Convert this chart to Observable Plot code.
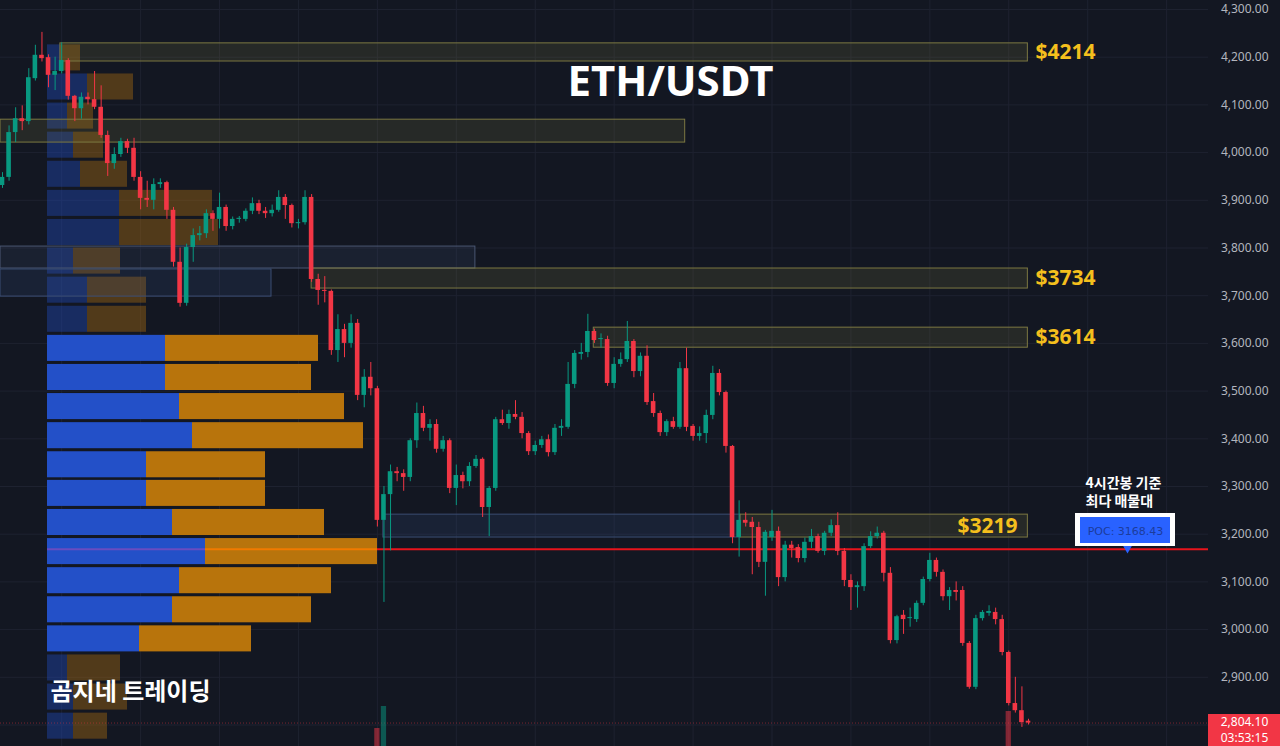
<!DOCTYPE html>
<html><head><meta charset="utf-8">
<script src="https://cdn.jsdelivr.net/npm/d3@7"></script>
<script src="https://cdn.jsdelivr.net/npm/@observablehq/plot@0.6"></script>
<style>
html,body{margin:0;padding:0;background:#131722;overflow:hidden}
#chart svg{display:block}
</style></head><body><div id="chart"></div>
<script>
// ---------- DATA ----------
const opens = [3931,3948,4042,4071,4065,4155,4204,4199,4162,4170,
4193,4118,4092,4116,4111,4095,4036,3977,3996,4023,
4009,3948,3904,3900,3933,3937,3879,3770,3684,3801,
3826,3830,3872,3860,3885,3845,3860,3860,3877,3893,
3877,3872,3879,3906,3889,3851,3853,3906,3734,3711,
3709,3585,3629,3600,3642,3491,3529,3505,3229,3283,
3331,3327,3319,3396,3453,3422,3430,3378,3396,3296,
3323,3310,3342,3357,3256,3296,3440,3432,3451,3445,
3411,3373,3386,3398,3371,3422,3424,3514,3577,3581,
3625,3608,3608,3516,3556,3566,3604,3541,3573,3478,
3453,3413,3436,3424,3547,3426,3405,3411,3449,3537,
3497,3384,3193,3229,3225,3214,3141,3193,3206,3109,
3177,3172,3149,3183,3195,3164,3202,3218,3164,3103,
3088,3090,3174,3195,3202,3118,2977,3030,3023,3021,
3055,3105,3145,3120,3069,3082,3082,2971,2879,3023,
3034,3036,3021,2952,2845,2830,2808];
const closes = [3948,4042,4071,4065,4157,4204,4197,4162,4170,4193,
4118,4092,4116,4111,4095,4036,3977,3996,4023,4009,
3948,3904,3900,3933,3937,3879,3770,3684,3801,3826,
3830,3872,3860,3885,3845,3860,3861,3877,3893,3877,
3872,3879,3906,3889,3851,3853,3906,3734,3711,3709,
3585,3629,3600,3642,3491,3529,3505,3229,3283,3331,
3327,3319,3396,3453,3422,3430,3378,3396,3296,3323,
3310,3342,3357,3256,3296,3440,3432,3451,3445,3411,
3373,3386,3398,3371,3422,3426,3514,3579,3581,3625,
3606,3609,3516,3556,3566,3604,3541,3573,3476,3453,
3413,3436,3424,3547,3424,3405,3411,3449,3537,3497,
3384,3193,3229,3223,3214,3141,3204,3206,3109,3177,
3170,3149,3183,3195,3164,3202,3218,3164,3103,3088,
3092,3174,3195,3202,3118,2977,3027,3021,3023,3055,
3105,3145,3120,3069,3082,3078,2971,2879,3023,3036,
3038,3021,2952,2845,2830,2805,2804];
const highs = [3958,4056,4094,4098,4176,4225,4252,4205,4200,4230,
4197,4120,4125,4125,4170,4140,4045,4010,4030,4028,
4030,3960,3940,3945,3945,3940,3885,3800,3808,3840,
3845,3880,3878,3915,3890,3865,3866,3882,3905,3900,
3885,3890,3920,3912,3892,3860,3920,3912,3745,3740,
3712,3660,3640,3660,3650,3545,3560,3510,3300,3345,
3340,3335,3400,3475,3468,3440,3440,3405,3400,3345,
3330,3350,3365,3360,3300,3445,3460,3460,3480,3455,
3415,3395,3405,3408,3430,3440,3560,3585,3600,3661,
3630,3620,3615,3570,3580,3646,3608,3580,3595,3495,
3458,3440,3445,3560,3590,3430,3425,3460,3552,3545,
3500,3386,3270,3245,3235,3225,3208,3250,3215,3185,
3185,3178,3192,3210,3200,3206,3230,3245,3170,3115,
3100,3180,3205,3215,3206,3130,3030,3040,3045,3060,
3110,3160,3150,3125,3088,3100,3090,2975,3030,3040,
3050,3045,3030,2955,2900,2880,2812];
const lows = [3925,3940,4021,4046,4058,4150,4190,4136,4130,4165,
4110,4065,4070,4100,4090,4030,3950,3965,3990,3998,
3940,3880,3885,3880,3925,3860,3760,3676,3678,3770,
3815,3820,3835,3840,3835,3838,3852,3855,3870,3870,
3862,3865,3875,3860,3842,3840,3848,3728,3680,3685,
3575,3560,3570,3590,3480,3465,3490,3215,3057,3165,
3310,3290,3310,3380,3415,3395,3370,3372,3285,3260,
3295,3300,3338,3235,3195,3290,3428,3420,3440,3400,
3365,3365,3380,3362,3365,3405,3420,3505,3565,3570,
3600,3590,3510,3505,3550,3560,3528,3530,3470,3445,
3405,3405,3420,3420,3415,3395,3395,3390,3440,3490,
3370,3180,3152,3215,3115,3130,3070,3185,3090,3100,
3150,3140,3140,3170,3160,3155,3195,3155,3090,3040,
3045,3080,3170,3190,3100,2970,2970,2990,3005,3015,
3050,3100,3110,3060,3040,3060,2965,2875,2874,3018,
3028,3010,2945,2840,2825,2795,2800];

// visible volume bars (candle index, volume units)
const volIndex = [57, 58, 153];
const volValue = [18, 40, 35];

// volume profile (24 price bins, top to bottom)
const binHigh = [4229,4168,4107,4046,3985,3924,3863,3803,3742,3681,
3620,3559,3498,3437,3376,3316,3255,3194,3133,3072,
3011,2950,2889,2828];
const binStep = 60.9;
const buyVol  = [13,40,20,26,33,72,72,26,40,40,118,118,132,145,99,99,125,158,132,125,92,20,26,26];
const sellVol = [20,46,26,30,47,93,99,47,59,59,153,146,165,171,119,119,152,172,152,139,112,53,54,34];
const valueAreaRows = [10,11,12,13,14,15,16,17,18,19,20];

const pocPrice = 3168.43;
const lastPrice = 2804.10;
const countdown = "03:53:15";

// support / resistance zones
const zoneStart = [8.8, -0.3, -0.3, -0.3, 47.0, 89.9, 57.9, 112.2];
const zoneEnd   = [155.9, 103.8, 71.9, 40.9, 155.9, 155.9, 112.2, 155.9];
const zoneLow   = [4191, 4021, 3757, 3698, 3715, 3591, 3193, 3193];
const zoneHigh  = [4229, 4069, 3803, 3755, 3757, 3633, 3241, 3241];
const zoneKind  = ["olive","olive","grey","blue","olive","olive","blue","olive"];
const zoneLabels = ["$4214", "$3734", "$3614", "$3219"];
const zoneLabelPrice = [4210, 3736, 3612, 3217];

const tickPrices = [2900,3000,3100,3200,3300,3400,3500,3600,3700,3800,3900,4000,4100,4200,4300];
const gridPrices = [2800,2900,3000,3100,3200,3300,3400,3500,3600,3700,3800,3900,4000,4100,4200,4300];

const title = "ETH/USDT";
const watermark = "곰지네 트레이딩";
const noteLines = ["4시간봉 기준", "최다 매물대"];

// ---------- LAYOUT ----------
const W = 1280, H = 746;
const pxPerBar = 6.577;
const X = px => (px - 2) / pxPerBar;          // pixel -> bar index
const pricePerPx = 1 / 0.477;
const Y = py => 4300 - (py - 9) * pricePerPx;  // pixel -> price
const xDomain = [X(0), X(W)];
const yDomain = [Y(H), Y(0)];
const plotRight = X(1208);
const profileStart = X(47);

const GREEN = "#089981", RED = "#f23645";
const FONT = "'Noto Sans', 'Noto Sans CJK KR', sans-serif";
const KFONT = "'Noto Sans CJK KR', 'Noto Sans', sans-serif";

const candles = opens.map((o, i) => ({i, o, c: closes[i], h: highs[i], l: lows[i]}));
candles.forEach(d => {
  d.col = d.c >= d.o ? GREEN : RED;
  d.b0 = Math.min(d.o, d.c);
  d.b1 = Math.max(Math.max(d.o, d.c), d.b0 + 2.2);
});

const profile = binHigh.map((h, k) => ({
  k, top: h, bottom: h - binStep, buy: buyVol[k], sell: sellVol[k],
  va: valueAreaRows.includes(k)
}));
const pv = v => v / pxPerBar;

const zones = zoneStart.map((s, j) => ({s, e: zoneEnd[j], lo: zoneLow[j], hi: zoneHigh[j], kind: zoneKind[j]}));
const zoneFill = {olive: "#8c8746", grey: "#46557a", blue: "#3c5d9c"};
const zoneStroke = {olive: "#7c7842", grey: "#4a5672", blue: "#3a4d72"};

const vols = volIndex.map((i, j) => ({i, v: volValue[j], col: closes[i] >= opens[i] ? GREEN : RED}));
const volBase = yDomain[0];

const gridIdx = d3.range(9, 190, 12);
const fmt = d3.format(",.2f");

const chart = Plot.plot({
  width: W, height: H, margin: 0,
  x: {domain: xDomain, axis: null},
  y: {domain: yDomain, axis: null},
  color: {type: "identity"},
  style: {background: "#131722", overflow: "visible"},
  marks: [
    Plot.ruleY(gridPrices, {x1: xDomain[0], x2: plotRight, stroke: "#1e2230", strokeWidth: 1}),
    Plot.ruleX(gridIdx.filter(i => i < plotRight), {y1: yDomain[0], y2: yDomain[1], stroke: "#1e2230", strokeWidth: 1}),
    Plot.rect(profile, {x1: profileStart, x2: d => profileStart + pv(d.buy), y1: "bottom", y2: "top",
      insetTop: 1.5, insetBottom: 1.5, fill: "#2350c8", fillOpacity: d => d.va ? 1 : 0.38}),
    Plot.rect(profile, {x1: d => profileStart + pv(d.buy), x2: d => profileStart + pv(d.buy + d.sell), y1: "bottom", y2: "top",
      insetTop: 1.5, insetBottom: 1.5, fill: "#b8740c", fillOpacity: d => d.va ? 1 : 0.38}),
    Plot.rect(zones, {x1: "s", x2: "e", y1: "lo", y2: "hi", fill: d => zoneFill[d.kind], fillOpacity: 0.16,
      stroke: d => zoneStroke[d.kind], strokeWidth: 1}),
    Plot.ruleY([pocPrice], {x1: profileStart, x2: profileStart + pv(158), stroke: "#6a4cc0", strokeWidth: 2}),
    Plot.ruleY([pocPrice], {x1: profileStart + pv(158), x2: profileStart + pv(330), stroke: "#f07a00", strokeWidth: 2}),
    Plot.ruleY([pocPrice], {x1: profileStart + pv(330), x2: plotRight, stroke: "#e8141c", strokeWidth: 2}),
    Plot.ruleY([lastPrice], {x1: xDomain[0], x2: plotRight, stroke: RED, strokeOpacity: 0.45, strokeDasharray: "1,2"}),
    Plot.rect(vols, {x1: d => d.i - 0.4, x2: d => d.i + 0.4, y1: volBase, y2: d => volBase + d.v * pricePerPx,
      fill: "col", fillOpacity: 0.5}),
    Plot.ruleX(candles, {x: "i", y1: "l", y2: "h", stroke: "col", strokeWidth: 1}),
    Plot.rect(candles, {x1: d => d.i - 0.35, x2: d => d.i + 0.35, y1: "b0", y2: "b1", fill: "col"}),
    Plot.text(zoneLabels.slice(0, 3), {x: X(1035), y: (d, j) => zoneLabelPrice[j], text: d => d,
      textAnchor: "start", fill: "#f4bf1d", fontSize: 21, fontWeight: "bold", fontFamily: FONT}),
    Plot.text(zoneLabels.slice(3), {x: X(1017), y: zoneLabelPrice[3], text: d => d,
      textAnchor: "end", fill: "#f4bf1d", fontSize: 21, fontWeight: "bold", fontFamily: FONT}),
    Plot.text([title], {frameAnchor: "top-left", dx: 670, dy: 66, text: d => d, textAnchor: "middle",
      fill: "#ffffff", fontSize: 42, fontWeight: "bold", fontFamily: FONT}),
    Plot.text([watermark], {frameAnchor: "top-left", dx: 50, dy: 682, text: d => d, textAnchor: "start",
      fill: "#ffffff", fontSize: 24, fontWeight: "bold", fontFamily: KFONT}),
    Plot.text([noteLines[0]], {frameAnchor: "top-left", dx: 1085, dy: 478, text: d => d, textAnchor: "start",
      fill: "#ffffff", fontSize: 14, fontWeight: "bold", fontFamily: KFONT}),
    Plot.text([noteLines[1]], {frameAnchor: "top-left", dx: 1085, dy: 496, text: d => d, textAnchor: "start",
      fill: "#ffffff", fontSize: 14, fontWeight: "bold", fontFamily: KFONT}),
    Plot.rect([0], {x1: X(1075), x2: X(1175), y1: Y(546), y2: Y(513), fill: "#ffffff"}),
    Plot.rect([0], {x1: X(1080), x2: X(1170), y1: Y(543), y2: Y(517), fill: "#2962ff"}),
    Plot.text(["POC: " + pocPrice.toFixed(2)], {x: X(1125), y: Y(530.5), text: d => d, fill: "#1c3c9c",
      fontSize: 11, fontFamily: "'DejaVu Sans', sans-serif"}),
    Plot.dot([0], {x: X(1127), y: Y(548), symbol: "triangle", r: 3.2, rotate: 180, fill: "#2962ff"}),
    Plot.text(tickPrices, {y: d => d, text: d => fmt(d), frameAnchor: "right", dx: -12, textAnchor: "end",
      fill: "#b2b5be", fontSize: 12, fontFamily: "'Noto Sans', sans-serif"}),
    Plot.rect([0], {x1: X(1208), x2: X(1280), y1: Y(746), y2: Y(714), fill: RED}),
    Plot.text([fmt(lastPrice), countdown], {x: X(1244), y: (d, j) => j === 0 ? Y(722) : Y(738), text: d => d,
      fill: "#ffffff", fontSize: 12, fontFamily: "'Noto Sans', sans-serif"})
  ]
});
document.getElementById("chart").appendChild(chart);
</script></body></html>
